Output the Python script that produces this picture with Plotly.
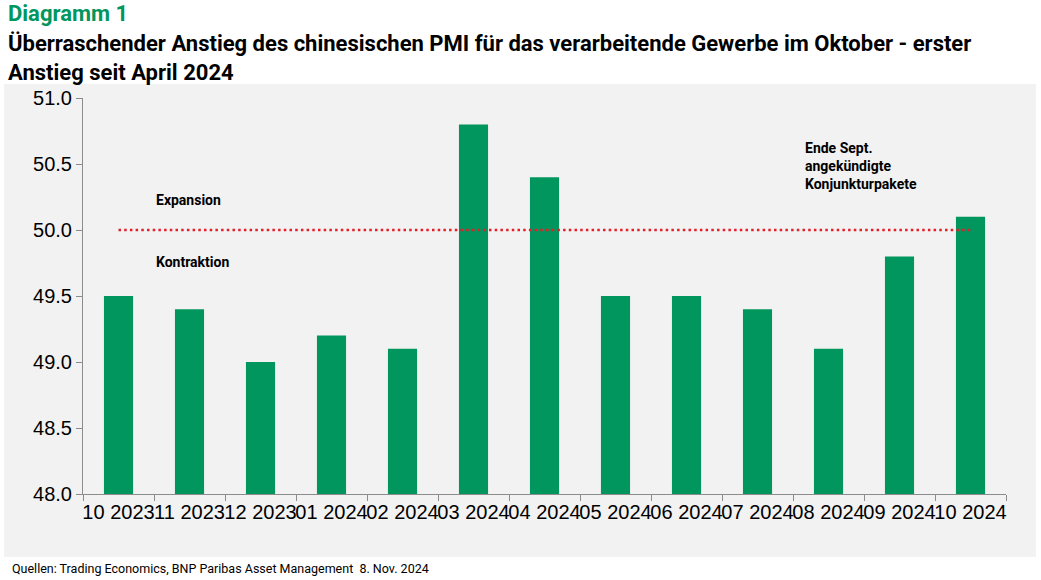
import plotly.graph_objects as go

categories = ["10 2023", "11 2023", "12 2023", "01 2024", "02 2024", "03 2024", "04 2024",
              "05 2024", "06 2024", "07 2024", "08 2024", "09 2024", "10 2024"]
pmi = [49.5, 49.4, 49.0, 49.2, 49.1, 50.8, 50.4, 49.5, 49.5, 49.4, 49.1, 49.8, 50.1]
threshold = [50.0] * len(categories)
y_ticks = [48.0, 48.5, 49.0, 49.5, 50.0, 50.5, 51.0]

GREEN = "#00965E"
BG = "#F2F2F2"
AXIS = "#8C8C8C"
NARROW = "Liberation Sans Narrow, Roboto, sans-serif"

L, T, W, H = 83, 98, 923, 396


def px(x):
    return (x - L) / W


def py(y):
    return (T + H - y) / H


fig = go.Figure()
fig.add_trace(go.Bar(x=categories, y=pmi, marker=dict(color=GREEN, line=dict(width=0)),
                     width=0.41, hoverinfo="x+y"))
fig.add_trace(go.Scatter(x=categories, y=threshold, mode="lines",
                         line=dict(color="#E3202A", width=2.5, dash="2.5px,3.2px"), hoverinfo="skip"))

fig.add_shape(type="rect", xref="paper", yref="paper", x0=px(4), x1=px(1036), y0=py(557), y1=py(84),
              fillcolor=BG, line=dict(width=0), layer="below")

fig.update_layout(
    width=1041, height=580,
    margin=dict(l=L, r=1041 - L - W, t=T, b=580 - T - H, autoexpand=False),
    paper_bgcolor="white", plot_bgcolor=BG,
    showlegend=False,
    font=dict(family="Liberation Sans, Arial, sans-serif", color="black"),
    xaxis=dict(type="category", tickson="boundaries", ticks="outside", ticklen=6, tickcolor=AXIS,
               showline=True, linecolor=AXIS, linewidth=1, showgrid=False, tickangle=0,
               automargin=False, tickfont=dict(size=20), range=[-0.5, 12.5]),
    yaxis=dict(range=[48.0, 51.0], tickvals=y_ticks, ticktext=[f"{v:.1f}" for v in y_ticks],
               ticks="outside", ticklen=6, tickcolor=AXIS, showline=True, linecolor=AXIS,
               linewidth=1, showgrid=False, zeroline=False, automargin=False,
               tickfont=dict(size=20)),
)

fig.add_annotation(xref="paper", yref="paper", x=px(6), y=py(14), xanchor="left", yanchor="middle",
                   text="<b>Diagramm 1</b>", showarrow=False,
                   font=dict(family="Roboto, sans-serif", size=22, color=GREEN))
fig.add_annotation(xref="paper", yref="paper", x=px(6), y=py(29), xanchor="left", yanchor="top",
                   align="left", showarrow=False,
                   text="<b>Überraschender Anstieg des chinesischen PMI für das verarbeitende Gewerbe im Oktober - erster<br>Anstieg seit April 2024</b>",
                   font=dict(family="Roboto, sans-serif", size=22))
fig.add_annotation(x=0.5, y=50.23, xref="x", yref="y", xanchor="left", yanchor="middle",
                   text="<b>Expansion</b>", showarrow=False,
                   font=dict(family=NARROW, size=14))
fig.add_annotation(x=0.5, y=49.76, xref="x", yref="y", xanchor="left", yanchor="middle",
                   text="<b>Kontraktion</b>", showarrow=False,
                   font=dict(family=NARROW, size=14))
fig.add_annotation(x=9.64, y=50.7, xref="x", yref="y", xanchor="left", yanchor="top", align="left",
                   text="<b>Ende Sept.<br>angekündigte<br>Konjunkturpakete</b>", showarrow=False,
                   font=dict(family=NARROW, size=14))
fig.add_annotation(xref="paper", yref="paper", x=px(10), y=py(568), xanchor="left", yanchor="middle",
                   text="Quellen: Trading Economics, BNP Paribas Asset Management  8. Nov. 2024",
                   showarrow=False,
                   font=dict(family=NARROW, size=12.5))

fig.write_html("out.html", config={"displayModeBar": False},
               post_script="document.body.style.margin='0';")
